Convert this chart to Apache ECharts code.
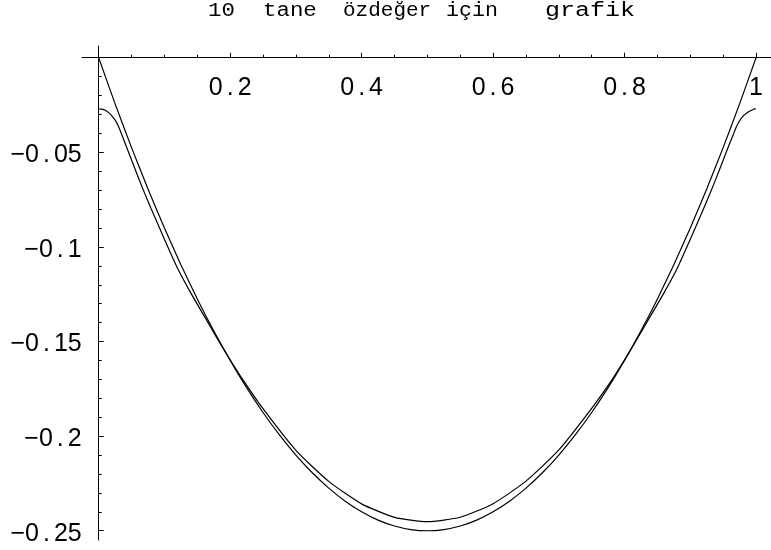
<!DOCTYPE html>
<html>
<head>
<meta charset="utf-8">
<script src="https://cdn.jsdelivr.net/npm/echarts@6/dist/echarts.min.js"></script>
<style>
html,body{margin:0;padding:0;background:#fff;}
#chart{width:771px;height:550px;}
</style>
</head>
<body>
<div id="chart"></div>
<script>
// ---- data ----
var titleText = '10 tane özdeğer için grafik';

var exactX = [0,0.025,0.05,0.075,0.1,0.125,0.15,0.175,0.2,0.225,0.25,0.275,0.3,0.325,0.35,0.375,0.4,0.425,0.45,0.475,0.5,
              0.525,0.55,0.575,0.6,0.625,0.65,0.675,0.7,0.725,0.75,0.775,0.8,0.825,0.85,0.875,0.9,0.925,0.95,0.975,1];
var exactY = [0,-0.024375,-0.0475,-0.069375,-0.09,-0.109375,-0.1275,-0.144375,-0.16,-0.174375,-0.1875,-0.199375,-0.21,-0.219375,-0.2275,-0.234375,-0.24,-0.244375,-0.2475,-0.249375,-0.25,
              -0.249375,-0.2475,-0.244375,-0.24,-0.234375,-0.2275,-0.219375,-0.21,-0.199375,-0.1875,-0.174375,-0.16,-0.144375,-0.1275,-0.109375,-0.09,-0.069375,-0.0475,-0.024375,0];

var approxX = [0,0.005,0.01,0.015,0.02,0.025,0.03,0.035,0.04,0.05,0.06,0.07,0.08,0.1,0.12,0.14,0.16,0.18,0.2,0.22,0.25,0.3,0.35,0.4,0.45,0.5,
               0.55,0.6,0.65,0.7,0.75,0.78,0.8,0.82,0.84,0.86,0.88,0.9,0.92,0.93,0.94,0.95,0.96,0.965,0.97,0.975,0.98,0.985,0.99,0.995,0.997,1];
var approxY = [-0.0271,-0.0272,-0.0278,-0.0290,-0.0307,-0.0330,-0.0362,-0.0405,-0.0451,-0.0541,-0.0630,-0.0717,-0.0799,-0.0959,-0.1113,-0.1243,-0.1362,-0.1482,-0.1596,-0.1705,-0.1855,-0.2075,-0.2239,-0.2358,-0.2429,-0.2452,
               -0.2429,-0.2357,-0.2238,-0.2073,-0.1853,-0.1707,-0.1597,-0.1481,-0.1362,-0.1243,-0.1114,-0.0960,-0.0800,-0.0718,-0.0631,-0.0542,-0.0452,-0.0410,-0.0366,-0.0333,-0.0310,-0.0295,-0.0283,-0.0275,-0.0270,-0.0271];

var xMajorTicks = [0.2, 0.4, 0.6, 0.8, 1];
var xMinorTicks = [0.05,0.1,0.15,0.25,0.3,0.35,0.45,0.5,0.55,0.65,0.7,0.75,0.85,0.9,0.95];
var yMajorTicks = [-0.05, -0.1, -0.15, -0.2, -0.25];
var yMinorTicks = [-0.01,-0.02,-0.03,-0.04,-0.06,-0.07,-0.08,-0.09,-0.11,-0.12,-0.13,-0.14,-0.16,-0.17,-0.18,-0.19,-0.21,-0.22,-0.23,-0.24];

var xMin = -0.0254, xMax = 1.0228;
var yMin = -0.2549, yMax = 0.0062;

// ---- layout (not data) ----
var titleLayout = [ // per word: left x, horizontal scale
  {x: 208, s: 1.12}, {x: 263, s: 1.12}, {x: 343, s: 1.05}, {x: 446, s: 1.08}, {x: 545, s: 1.25}
];
var GRID_LEFT = 82, GRID_TOP = 46, GRID_W = 689, GRID_H = 494;
// move the axes from the grid edges onto the zero lines
var xAxisOffset = -GRID_H * (0 - yMin) / (yMax - yMin);
var yAxisOffset = -GRID_W * (0 - xMin) / (xMax - xMin);

function pairs(xs, ys) { return xs.map(function (x, i) { return [x, ys[i]]; }); }
function fmt(v) {
  var s = String(Math.abs(v));
  var parts = s.split('.');
  var out = (v < 0 ? '\u2212' : '') + parts[0];
  if (parts.length > 1) out += '{d|.}' + parts[1];
  return out;
}

var chart = echarts.init(document.getElementById('chart'), null, {renderer: 'canvas'});

var graphics = titleText.split(' ').map(function (w, i) {
  return {
    type: 'text', x: titleLayout[i].x, y: 21, scaleX: titleLayout[i].s,
    style: {text: w, fontFamily: 'Liberation Mono', fontSize: 20, fill: '#000', verticalAlign: 'bottom'}
  };
});

var labelStyle = {fontFamily: 'Liberation Sans', fontSize: 25, color: '#000',
  rich: {d: {fontFamily: 'Liberation Sans', fontSize: 25, color: '#000', padding: [0, 4, 0, 4]}}};

chart.setOption({
  animation: false,
  backgroundColor: '#fff',
  graphic: graphics,
  grid: {left: GRID_LEFT, top: GRID_TOP, width: GRID_W, height: GRID_H, containLabel: false, outerBoundsMode: 'none'},
  xAxis: [
    {
      type: 'value', min: xMin, max: xMax, position: 'bottom', offset: xAxisOffset,
      axisLine: {show: true, onZero: false, lineStyle: {color: '#000', width: 1}},
      axisTick: {show: true, inside: true, length: 5, customValues: xMajorTicks, lineStyle: {color: '#000', width: 1}},
      axisLabel: Object.assign({show: true, customValues: xMajorTicks, margin: 18, formatter: fmt, showMinLabel: true, showMaxLabel: true}, labelStyle),
      splitLine: {show: false}
    },
    {
      type: 'value', min: xMin, max: xMax, position: 'bottom', offset: xAxisOffset,
      axisLine: {show: false, onZero: false},
      axisTick: {show: true, inside: true, length: 3, customValues: xMinorTicks, lineStyle: {color: '#000', width: 1}},
      axisLabel: {show: false},
      splitLine: {show: false}
    }
  ],
  yAxis: [
    {
      type: 'value', min: yMin, max: yMax, position: 'left', offset: yAxisOffset,
      axisLine: {show: true, onZero: false, lineStyle: {color: '#000', width: 1}},
      axisTick: {show: true, inside: true, length: 5, customValues: yMajorTicks, lineStyle: {color: '#000', width: 1}},
      axisLabel: Object.assign({show: true, customValues: yMajorTicks, margin: 17, formatter: fmt, padding: [6, 0, 0, 0]}, labelStyle),
      splitLine: {show: false}
    },
    {
      type: 'value', min: yMin, max: yMax, position: 'left', offset: yAxisOffset,
      axisLine: {show: false, onZero: false},
      axisTick: {show: true, inside: true, length: 3, customValues: yMinorTicks, lineStyle: {color: '#000', width: 1}},
      axisLabel: {show: false},
      splitLine: {show: false}
    }
  ],
  series: [
    {
      type: 'line', name: 'exact', xAxisIndex: 0, yAxisIndex: 0,
      data: pairs(exactX, exactY), showSymbol: false, symbol: 'none', smooth: 0.2,
      lineStyle: {color: '#000', width: 1.2}
    },
    {
      type: 'line', name: 'approx', xAxisIndex: 0, yAxisIndex: 0,
      data: pairs(approxX, approxY), showSymbol: false, symbol: 'none', smooth: 0.2,
      lineStyle: {color: '#000', width: 1.2}
    }
  ]
});
</script>
</body>
</html>
